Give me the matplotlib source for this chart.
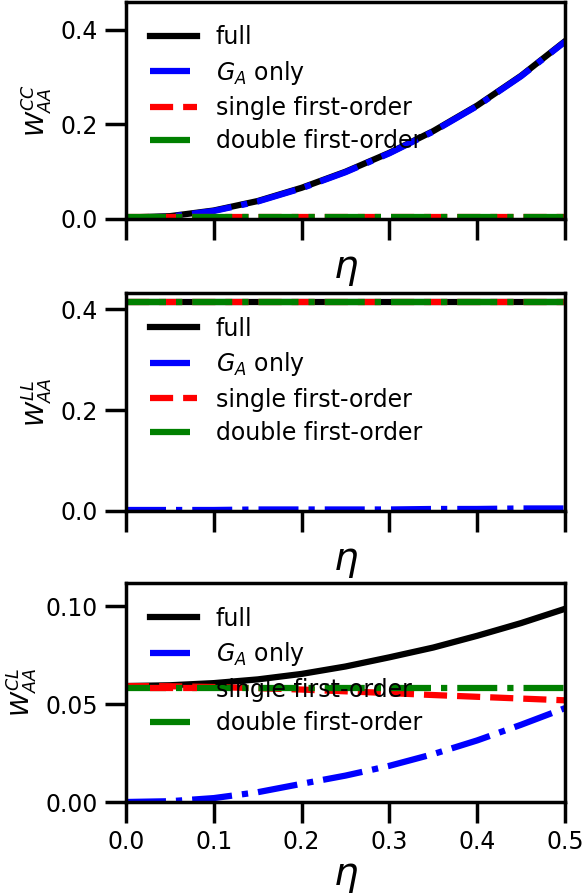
import matplotlib
matplotlib.use("Agg")
import matplotlib.pyplot as plt

eta = [0.0, 0.05, 0.1, 0.15, 0.2, 0.25, 0.3, 0.35, 0.4, 0.45, 0.5]

# W_AA^CC
cc_full = [0.003, 0.006, 0.018, 0.038, 0.066, 0.100, 0.140, 0.186, 0.240, 0.303, 0.376]
cc_ga = [0.002, 0.005, 0.017, 0.037, 0.065, 0.099, 0.139, 0.185, 0.239, 0.302, 0.375]
cc_single = [0.004, 0.004, 0.004, 0.004, 0.004, 0.004, 0.004, 0.004, 0.004, 0.004, 0.004]
cc_double = [0.004, 0.004, 0.004, 0.004, 0.004, 0.004, 0.004, 0.004, 0.004, 0.004, 0.004]

# W_AA^LL
ll_full = [0.414, 0.414, 0.414, 0.414, 0.414, 0.414, 0.414, 0.414, 0.414, 0.414, 0.414]
ll_ga = [0.002, 0.002, 0.002, 0.003, 0.003, 0.003, 0.003, 0.004, 0.004, 0.005, 0.005]
ll_single = [0.414, 0.414, 0.414, 0.414, 0.414, 0.414, 0.414, 0.414, 0.414, 0.414, 0.414]
ll_double = [0.414, 0.414, 0.414, 0.414, 0.414, 0.414, 0.414, 0.414, 0.414, 0.414, 0.414]

# W_AA^CL
cl_full = [0.0593, 0.0597, 0.0608, 0.0627, 0.0655, 0.0693, 0.0740, 0.0790, 0.0850, 0.0915, 0.0988]
cl_ga = [0.0, 0.0004, 0.0020, 0.0050, 0.0093, 0.0135, 0.0185, 0.0245, 0.0315, 0.0395, 0.0480]
cl_single = [0.0593, 0.0592, 0.0588, 0.0582, 0.0575, 0.0566, 0.0557, 0.0547, 0.0538, 0.0529, 0.0520]
cl_double = [0.0582, 0.0582, 0.0582, 0.0582, 0.0582, 0.0582, 0.0582, 0.0582, 0.0582, 0.0582, 0.0582]

labels = ["full", "$G_A$ only", "single first-order", "double first-order"]
ylabels = [r"$W_{AA}^{CC}$", r"$W_{AA}^{LL}$", r"$W_{AA}^{CL}$"]
ylims = [(0, 0.46), (0, 0.432), (0, 0.112)]
yticks = [[0.0, 0.2, 0.4], [0.0, 0.2, 0.4], [0.0, 0.05, 0.10]]
yticklabels = [["0.0", "0.2", "0.4"], ["0.0", "0.2", "0.4"], ["0.00", "0.05", "0.10"]]

data = [
    (cc_full, cc_ga, cc_single, cc_double),
    (ll_full, ll_ga, ll_single, ll_double),
    (cl_full, cl_ga, cl_single, cl_double),
]

fig = plt.figure(figsize=(5.82, 8.94), dpi=100)
left, width = 126 / 582, (565 - 126) / 582
tops = [1.5, 293, 583]
bottoms = [219, 511, 802]

for i in range(3):
    b = 1 - bottoms[i] / 894
    h = (bottoms[i] - tops[i]) / 894
    ax = fig.add_axes([left, b, width, h])
    full, ga, single, double = data[i]
    ax.plot(eta, full, color="black", lw=4.5, ls="-", label=labels[0])
    ax.plot(eta, ga, color="blue", lw=4.5, ls="-.", label=labels[1])
    ax.plot(eta, single, color="red", lw=4.5, ls="--", label=labels[2])
    ax.plot(eta, double, color="green", lw=4.5, ls="-.", label=labels[3])

    ax.set_xlim(0, 0.5)
    ax.set_ylim(*ylims[i])
    ax.set_xticks([0.0, 0.1, 0.2, 0.3, 0.4, 0.5])
    if i < 2:
        ax.set_xticklabels([])
    else:
        ax.set_xticklabels(["0.0", "0.1", "0.2", "0.3", "0.4", "0.5"])
    ax.set_yticks(yticks[i])
    ax.set_yticklabels(yticklabels[i])
    ax.tick_params(labelsize=17, length=15, width=2.5, pad=5)
    for s in ax.spines.values():
        s.set_linewidth(2.5)
    ax.set_xlabel(r"$\eta$", fontsize=28, labelpad=2)
    ax.set_ylabel(ylabels[i], fontsize=18)
    ax.legend(loc="upper left", frameon=False, fontsize=17, handletextpad=0.8,
              borderaxespad=0.6, labelspacing=0.4)

fig.savefig("out.png", dpi=100)
